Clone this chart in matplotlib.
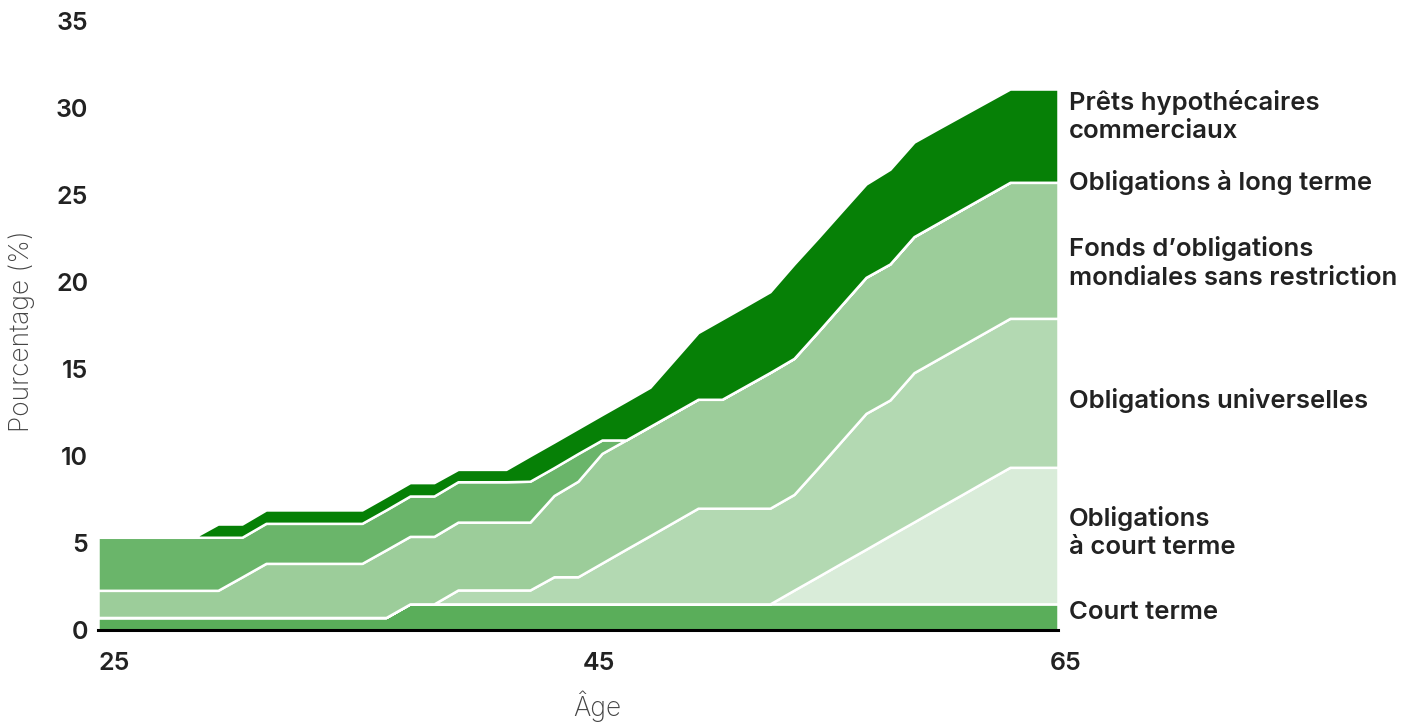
import numpy as np
import matplotlib
matplotlib.use("Agg")
import matplotlib.pyplot as plt
import matplotlib.transforms as mtransforms

#%% Data: glide path weights (%) by age

ages = list(range(25, 66))

court_terme = [0.72] * 13 + [1.5] * 28

oblig_court_terme = [0] * 29 + [0.79, 1.57, 2.36, 3.14, 3.93, 4.71, 5.5, 6.28,
                                7.07, 7.85, 7.85, 7.85]

oblig_universelles = [0] * 15 + [0.8, 0.8, 0.8, 0.8, 1.56, 1.56, 2.35, 3.14,
                                 3.92, 4.71, 5.5, 5.5, 5.5, 5.5, 5.5, 6.25,
                                 7.03, 7.81, 7.79, 8.58, 8.57, 8.57, 8.56,
                                 8.56, 8.56, 8.56]

fonds_mondiales = ([1.56] * 6 + [2.33] + [3.11] * 5 + [3.88] * 3 + [3.9] * 4
                   + [4.67, 5.49, 6.3, 6.28, 6.28, 6.27, 6.26, 6.26, 7.03, 7.8]
                   + [7.82] * 12)

oblig_long_terme = ([3.05] * 6 + [2.28] + [2.3] * 6 + [2.32] * 5
                    + [2.35, 1.6, 1.59, 0.77] + [0] * 19)

prets_hypo = ([0] * 5 + [0.76, 0.76] + [0.77] * 5 + [0.78, 0.77, 0.77]
              + [0.71] * 3 + [1.47, 1.47, 1.45, 1.46, 2.24, 2.25, 3.04, 3.83,
                              4.61, 4.62, 4.64, 5.42, 5.4, 5.38, 5.36, 5.44,
                              5.43, 5.42, 5.4, 5.38] + [5.36] * 3)

series_labels = ["Court terme", "Obligations\nà court terme",
                 "Obligations universelles",
                 "Fonds d\u2019obligations\nmondiales sans restriction",
                 "Obligations à long terme",
                 "Prêts hypothécaires\ncommerciaux"]
label_y = [1.0, 5.6, 13.2, 21.1, 25.7, 29.5]

colors = ["#5aae5a", "#d9ecd9", "#b3d9b2", "#9ccd9a", "#6ab56a", "#068006"]

y_ticks = [0, 5, 10, 15, 20, 25, 30, 35]
x_ticks = [25, 45, 65]

#%% Figure

plt.rcParams["font.family"] = ["Inter", "DejaVu Sans"]

fig = plt.figure(figsize=(14.13, 7.22), dpi=100)
ax = fig.add_axes([98 / 1413, 92 / 722, 960 / 1413, 609 / 722])

ax.stackplot(ages, court_terme, oblig_court_terme, oblig_universelles,
             fonds_mondiales, oblig_long_terme, prets_hypo,
             colors=colors, edgecolor="white", linewidth=1.8)

ax.set_xlim(25, 65)
ax.set_ylim(0, 35)

for side in ["top", "right", "left"]:
    ax.spines[side].set_visible(False)
ax.spines["bottom"].set_color("black")
ax.spines["bottom"].set_linewidth(2.2)
ax.spines["bottom"].set_zorder(5)

ax.set_yticks(y_ticks)
ax.set_xticks(x_ticks)
ax.tick_params(axis="both", length=0, labelsize=18, labelcolor="#222222")
ax.tick_params(axis="y", pad=7)
ax.tick_params(axis="x", pad=16)
for lab in ax.get_xticklabels() + ax.get_yticklabels():
    lab.set_fontweight("semibold")

# nudge the age labels to the right a little
x_shift = [16, 21, 8]
for lab, dx in zip(ax.get_xticklabels(), x_shift):
    lab.set_transform(lab.get_transform()
                      + mtransforms.ScaledTranslation(dx / 100, 0, fig.dpi_scale_trans))

ax.set_ylabel("Pourcentage (%)", fontsize=19, color="#444444",
              fontweight="light")
ax.yaxis.set_label_coords(-0.066, 0.49)
ax.set_xlabel("Âge", fontsize=19, color="#444444", fontweight="light")
ax.xaxis.set_label_coords(0.52, -0.1)

# series names at the right end of the stack
for txt, y in zip(series_labels, label_y):
    ax.annotate(txt, (65, y), xytext=(11, 0), textcoords="offset pixels",
                ha="left", va="center", fontsize=18.5, color="#222222",
                fontweight="semibold", linespacing=1.3, annotation_clip=False)

fig.savefig("out.png", dpi=100)
